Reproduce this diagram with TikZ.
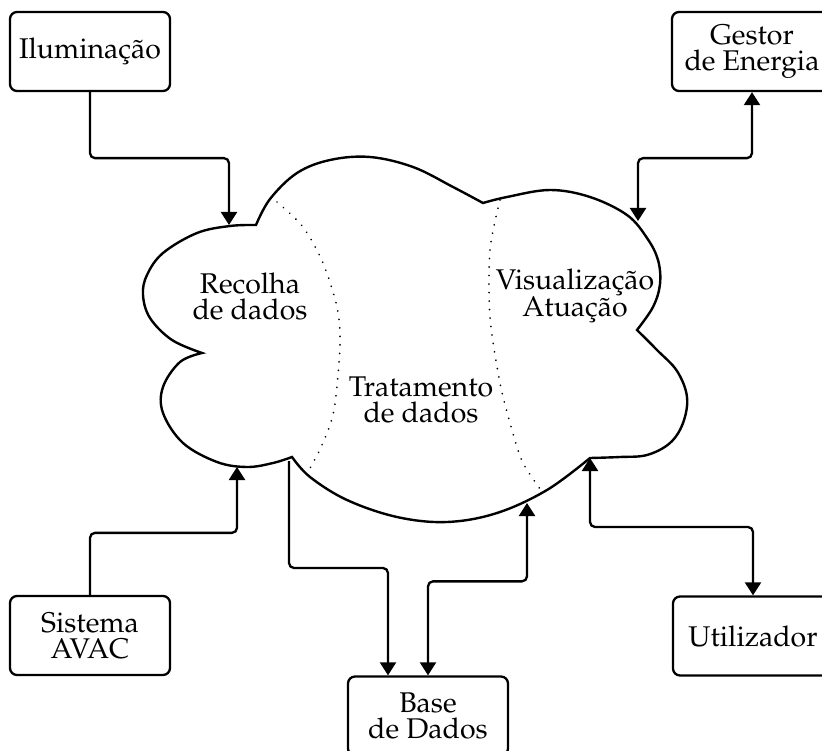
\documentclass[tikz,border=0pt]{standalone}
\usepackage[T1]{fontenc}
\usepackage{mathpazo}
\usetikzlibrary{arrows.meta,calc}
\begin{document}
\begin{tikzpicture}[x=1pt,y=-1pt,
  lbl/.style={align=center,inner sep=0pt,font=\fontsize{28.5}{26}\selectfont},
  box/.style={lbl,draw,line width=2.3pt,rounded corners=7pt,minimum width=160pt,minimum height=79pt},
  conn/.style={line width=2.3pt,rounded corners=5pt},
  tip/.tip={Triangle[length=13pt,width=16pt]},
  cloudline/.style={line width=2.4pt},
  divider/.style={line width=1.9pt,dash pattern=on 0.01pt off 8.5pt,line cap=round}]
\useasboundingbox (0,0) rectangle (822,751);
% cloud
\draw[cloudline]
  plot[smooth,tension=0.6] coordinates {(256,225) (270,199) (297,173) (330,160) (370,157) (413,167) (453,187) (483,203)}
  -- plot[smooth,tension=0.6] coordinates {(483,203) (507,197) (550,190) (590,197) (627,215) (647,238) (658,260) (660,284) (653,307) (637,330)}
  -- plot[smooth,tension=0.6] coordinates {(637,330) (657,350) (677,371) (687,397) (683,423) (670,443) (647,455) (620,457) (590,458)}
  -- plot[smooth,tension=0.6] coordinates {(590,458) (547,490) (497,513) (447,522) (397,517) (347,500) (310,477) (292,457)}
  -- plot[smooth,tension=0.6] coordinates {(292,457) (273,463) (247,467) (217,462) (183,443) (163,413) (163,387) (180,362) (202,353)}
  -- plot[smooth,tension=0.6] coordinates {(202,353) (172,340) (150,318) (143,295) (147,275) (163,253) (197,233) (230,226) (256,225)}
  -- cycle;
% dividers
\draw[divider] plot[smooth] coordinates {(277,202) (303,227) (323,263) (337,307) (340,345) (334,410) (322,445) (309,470)};
\draw[divider] plot[smooth] coordinates {(500,200) (490,250) (490,317) (500,383) (512,430) (523,463) (543,493)};
% texts in cloud
\node[lbl] (rec) at (250,296) {Recolha\\de dados};
\node[lbl] (trat) at (421,400) {Tratamento\\de dados};
\node[lbl] (vis) at (575,296) {Visualização\\Atuação};
% boxes
\node[box] (ilum) at (90,51.5) {Iluminação};
\node[box] (gestor) at (752,51.5) {Gestor\\de Energia};
\node[box] (avac) at (90,635.5) {Sistema\\AVAC};
\node[box] (base) at (428,716) {Base\\de Dados};
\node[box] (util) at (753,636) {Utilizador};
% cloud anchors
\coordinate (c1) at (229,225);
\coordinate (c2) at (638,221);
\coordinate (c3) at (237,467);
\coordinate (c4) at (289,461);
\coordinate (c5) at (527,503);
\coordinate (c6) at (590,458);
% connectors
\draw[conn,-tip] (ilum.south) -- ++(0,66) -| (c1);
\draw[conn,tip-tip] (gestor.south) -- ++(0,66) -| (c2);
\draw[conn,-tip] (avac.north) -- ++(0,-62) -| (c3);
\draw[conn,-tip] (c4) -- ++(0,107) -| ([xshift=-40pt]base.north);
\draw[conn,tip-tip] (base.north) -- ++(0,-94) -| (c5);
\draw[conn,tip-tip] (c6) -- ++(0,69) -| (util.north);
\end{tikzpicture}
\end{document}
